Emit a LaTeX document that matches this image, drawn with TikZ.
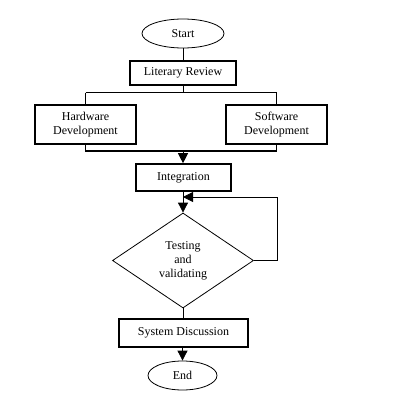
\documentclass[tikz,border=0pt]{standalone}
\usepackage{fontspec}
\setmainfont{Liberation Serif}
\usetikzlibrary{shapes.geometric,arrows.meta}
\begin{document}
\begin{tikzpicture}[
    x=1pt,y=-1pt,
    font=\fontsize{12}{14}\selectfont,
    term/.style={ellipse, draw, line width=0.8pt, inner sep=0pt},
    stepbox/.style={rectangle, draw, line width=1.6pt, inner sep=0pt, align=center},
    decide/.style={diamond, draw, line width=0.8pt, inner sep=0pt, align=center},
    link/.style={line width=0.8pt},
    bar/.style={line width=1.6pt},
    flow/.style={line width=0.8pt, -{Triangle[length=10pt,width=10pt]}}
    ]
	\useasboundingbox (0,0) rectangle (401,412);
	\node [term, minimum width=82pt, minimum height=29pt] (start) at (183,33.5) {Start};
	\node [stepbox, minimum width=106pt, minimum height=24pt] (review) at (183,73) {Literary Review};
	\node [stepbox, minimum width=101pt, minimum height=39pt] (hardware) at (85.5,124.5) {Hardware\\Development};
	\node [stepbox, minimum width=101pt, minimum height=39pt] (software) at (276.5,124.5) {Software\\Development};
	\node [stepbox, minimum width=95pt, minimum height=27pt] (integration) at (183.5,177.5) {Integration};
	\node [decide, minimum width=141pt, minimum height=95pt] (testing) at (183,260.5) {Testing\\and\\validating};
	\node [stepbox, minimum width=129pt, minimum height=28pt] (discussion) at (183.5,333) {System Discussion};
	\node [term, minimum width=69pt, minimum height=29pt] (end) at (182.5,375.5) {End};
	\coordinate (split) at (183,92.5);
	\coordinate (merge) at (183,151);
	\coordinate (loop) at (277,197);
	\draw [link] (start) -- (review);
	\draw [link] (review) -- (split);
	\draw [bar] (hardware.north |- split) -- (software.north |- split);
	\draw [link] (hardware.north |- split) -- (hardware.north);
	\draw [link] (software.north |- split) -- (software.north);
	\draw [bar] (hardware.south) -- (hardware.south |- merge) -- (software.south |- merge) -- (software.south);
	\draw [flow] (merge) -- (integration.north -| merge);
	\draw [flow] (integration.south -| testing.north) -- (testing.north);
	\draw [flow] (testing.east) -- (testing.east -| loop) -- (loop) -- (testing.north |- loop);
	\draw [link] (testing.south) -- (discussion.north -| testing.south);
	\draw [flow] (discussion.south -| end.north) -- (end.north);
;
\end{tikzpicture}
\end{document}
